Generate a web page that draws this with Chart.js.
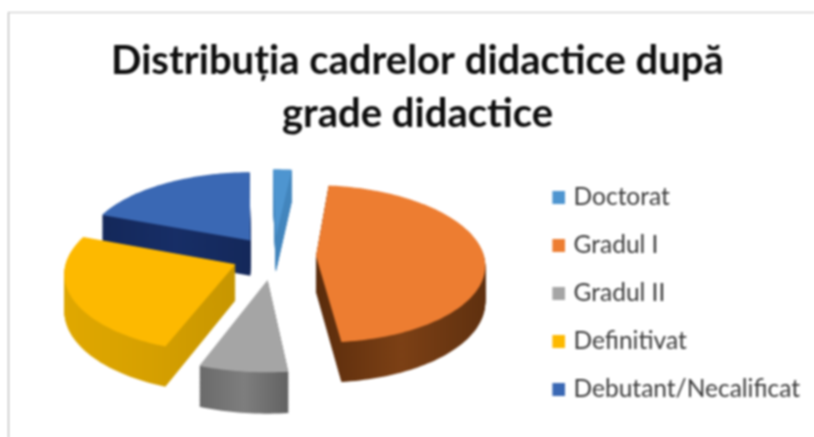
<!DOCTYPE html>
<html><head><meta charset="utf-8">
<script src="https://cdn.jsdelivr.net/npm/chart.js@4"></script>
<style>
html,body{margin:0;padding:0;background:#fff;overflow:hidden}
#box{position:absolute;left:8px;top:12px;width:806px;height:425px;border-left:1px solid #a8a8a8;border-top:1px solid #c4c4c4;filter:blur(.8px)}
canvas{display:block}
</style></head><body>
<div id="box"><canvas id="c" width="805" height="424"></canvas></div>
<script>
const titleLines = ["Distribuția cadrelor didactice după", "grade didactice"];
const categories = ["Doctorat", "Gradul I", "Gradul II", "Definitivat", "Debutant/Necalificat"];
const shares = [2, 46.5, 7.5, 25, 19];
const topColors = ["#4e95d0", "#ed7d31", "#a5a5a5", "#fdb900", "#3a68b4"];
const sideColors = [
  ["#4285bd", "#4285bd", "#4285bd"],
  ["#5a2c0c", "#7c4015", "#5f300f"],
  ["#6a6a6a", "#7e7e7e", "#626262"],
  ["#e0a800", "#d6a000", "#c79600"],
  ["#14285a", "#172e66", "#14285a"]
];
const explode = [0.25, 0.25, 0.3, 0.25, 0.25];

const view = {rx: 168, ry: 78, persp: 0.1, depth: 36, cx: 265, cy: 243};

function legendSwatch(color) {
  const cv = document.createElement('canvas');
  cv.width = 21; cv.height = 13;
  const g = cv.getContext('2d');
  g.fillStyle = color;
  g.fillRect(8, 0, 13, 13);
  return cv;
}

const pie3d = {
  id: 'pie3d',
  beforeDatasetsDraw(chart) {
    const ctx = chart.ctx;
    const arcs = chart.getDatasetMeta(0).data;
    const project = (X, Y, z) => {
      const f = 1 / (1 - view.persp * Y);
      return [view.cx + view.rx * X * f, view.cy + view.ry * Y * f + z * view.depth * f];
    };
    const slices = arcs.map((arc, i) => {
      const mid = (arc.startAngle + arc.endAngle) / 2;
      const ax = Math.cos(mid) * explode[i], ay = Math.sin(mid) * explode[i];
      const pts = [[ax, ay]];
      const n = Math.max(4, Math.ceil((arc.endAngle - arc.startAngle) * 40));
      for (let k = 0; k <= n; k++) {
        const t = arc.startAngle + (arc.endAngle - arc.startAngle) * k / n;
        pts.push([ax + Math.cos(t), ay + Math.sin(t)]);
      }
      return {i, pts, ay};
    }).sort((a, b) => a.ay - b.ay);
    const fillAt = (pts, z, style) => {
      ctx.beginPath();
      pts.forEach((p, k) => {
        const q = project(p[0], p[1], z);
        if (k) ctx.lineTo(q[0], q[1]); else ctx.moveTo(q[0], q[1]);
      });
      ctx.closePath();
      ctx.fillStyle = style;
      ctx.fill();
    };
    for (const s of slices) {
      const xs = s.pts.map(p => project(p[0], p[1], 0)[0]);
      const g = ctx.createLinearGradient(Math.min(...xs), 0, Math.max(...xs), 0);
      sideColors[s.i].forEach((c, k) => g.addColorStop(k / 2, c));
      for (let z = 1; z > 0; z -= 0.02) fillAt(s.pts, z, g);
      fillAt(s.pts, 0, topColors[s.i]);
    }
    return false;
  }
};

new Chart(document.getElementById('c'), {
  type: 'pie',
  data: {labels: categories, datasets: [{data: shares, backgroundColor: topColors, borderWidth: 0}]},
  plugins: [pie3d],
  options: {
    responsive: false,
    animation: false,
    rotation: -1,
    layout: {padding: {left: 16, right: 4, top: 0, bottom: 12}},
    plugins: {
      tooltip: {enabled: false},
      title: {
        display: true, text: titleLines, color: '#0d0d0d',
        font: {family: 'Lato', weight: 'bold', size: 40, lineHeight: 1.33},
        padding: {top: 21, bottom: 14}
      },
      legend: {
        position: 'right',
        align: 'end',
        labels: {
          color: '#3a3a3a', font: {family: 'Lato', size: 24.5},
          usePointStyle: true, boxWidth: 13, boxHeight: 13, padding: 23.5,
          generateLabels(chart) {
            return Chart.overrides.pie.plugins.legend.labels.generateLabels(chart)
              .map((item, i) => Object.assign(item, {pointStyle: legendSwatch(topColors[i])}));
          }
        }
      }
    }
  }
});
</script>
</body></html>
